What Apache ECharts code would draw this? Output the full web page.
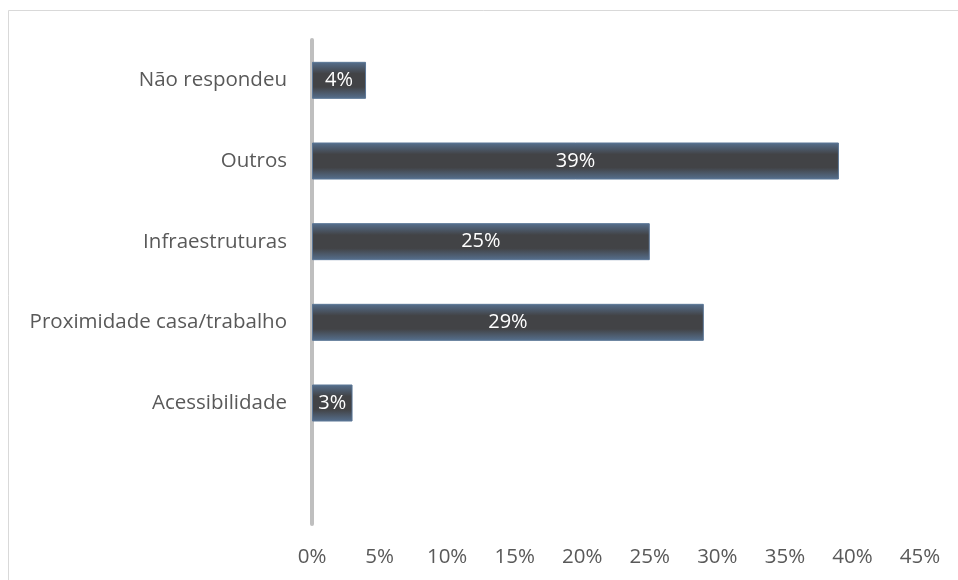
<!DOCTYPE html>
<html>
<head>
<meta charset="utf-8">
<script src="https://cdn.jsdelivr.net/npm/echarts@6/dist/echarts.min.js"></script>
<style>html,body{margin:0;padding:0;background:#fff}#c{width:958px;height:580px}</style>
</head>
<body>
<div id="c"></div>
<script>
const categories = ['', 'Acessibilidade', 'Proximidade casa/trabalho', 'Infraestruturas', 'Outros', 'Não respondeu'];
const values = [null, 3, 29, 25, 39, 4];
const xTicks = [0, 5, 10, 15, 20, 25, 30, 35, 40, 45];

const font = '"Open Sans", "Noto Sans", sans-serif';
const chart = echarts.init(document.getElementById('c'), null, {renderer: 'canvas'});
chart.setOption({
  animation: false,
  backgroundColor: '#ffffff',
  graphic: [{
    type: 'rect', silent: true, z: -10,
    shape: {x: 8.5, y: 10.5, width: 1000, height: 700},
    style: {fill: 'none', stroke: '#d9d9d9', lineWidth: 1}
  }],
  grid: {left: 312, right: 38, top: 40, bottom: 56, containLabel: false},
  xAxis: {
    type: 'value', min: xTicks[0], max: xTicks[xTicks.length - 1], interval: 5,
    axisLine: {show: false}, axisTick: {show: false}, splitLine: {show: false},
    axisLabel: {formatter: '{value}%', color: '#595959', fontFamily: font, fontSize: 20.5, margin: 23}
  },
  yAxis: {
    type: 'category', data: categories,
    axisLine: {show: true, lineStyle: {color: '#bfbfbf', width: 4}},
    axisTick: {show: false},
    axisLabel: {color: '#595959', fontFamily: font, fontSize: 20.5, margin: 25}
  },
  series: [{
    type: 'bar', data: values, barWidth: 37,
    itemStyle: {
      color: new echarts.graphic.LinearGradient(0, 0, 0, 1, [
        {offset: 0, color: '#56708f'},
        {offset: 0.32, color: '#424346'},
        {offset: 0.68, color: '#424346'},
        {offset: 1, color: '#56708f'}
      ]),
      borderColor: '#5b7696', borderWidth: 1
    },
    label: {
      show: true, position: 'inside', formatter: '{c}%',
      color: '#ffffff', fontFamily: font, fontSize: 20
    }
  }]
});
</script>
</body>
</html>
